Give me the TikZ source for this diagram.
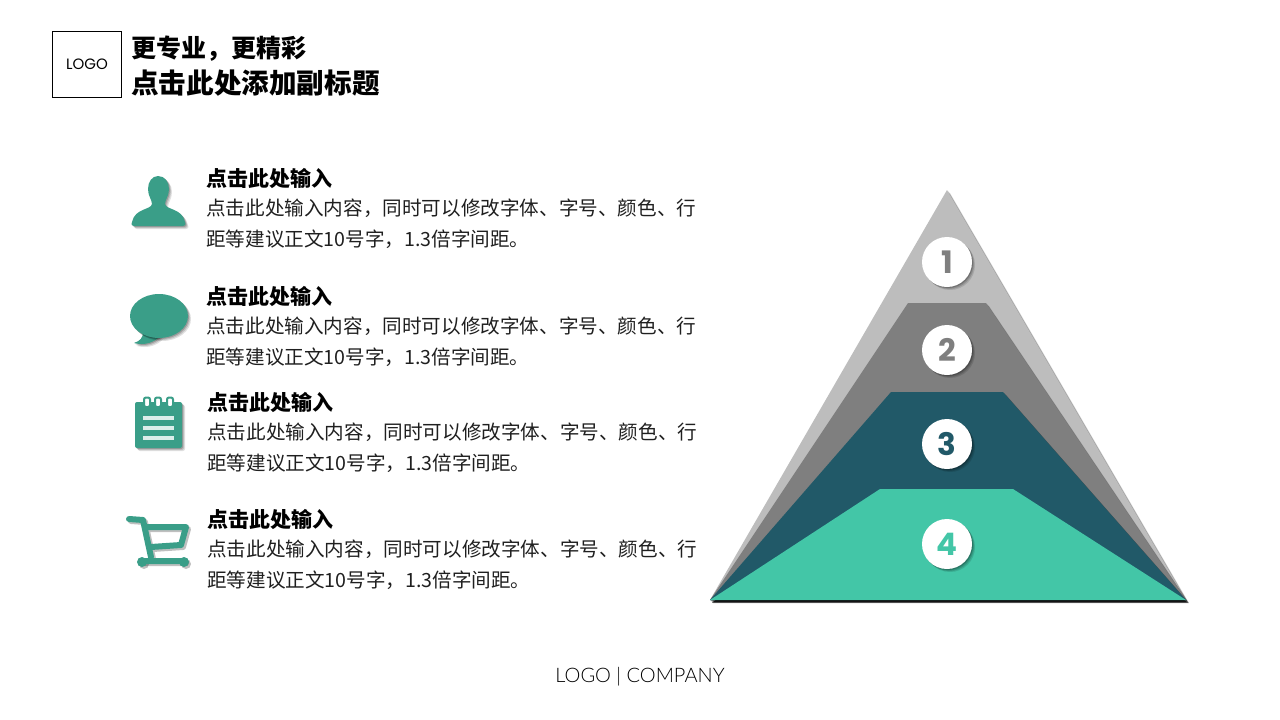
\documentclass[tikz,border=0pt]{standalone}
\usepackage{fontspec}
\setmainfont{Noto Sans CJK SC}
\newfontfamily\latinfont{Poppins}
\newfontfamily\latinlight{Lato Light}
\usetikzlibrary{
  shadows,
  calc
}
\definecolor{tier1}{HTML}{BDBDBD}
\definecolor{tier2}{HTML}{7F7F7F}
\definecolor{tier3}{HTML}{215968}
\definecolor{tier4}{HTML}{43C6A7}
\definecolor{icon}{HTML}{3A9E88}
\tikzset{
  softshadow/.style={
    drop shadow={shadow xshift=3pt,shadow yshift=-3pt,opacity=.12,fill=black},
    drop shadow={shadow xshift=2pt,shadow yshift=-2pt,opacity=.15,fill=black},
    drop shadow={shadow xshift=1pt,shadow yshift=-1pt,opacity=.2,fill=black}},
  tierface/.style={softshadow},
  numdot/.style={circle,fill=white,minimum size=50pt,inner sep=0pt,softshadow,font=\latinfont\bfseries\fontsize{31}{31}\selectfont},
  headtext/.style={anchor=west,inner sep=0pt,font=\bfseries\fontsize{21}{26}\selectfont},
  bodytext/.style={anchor=north west,inner sep=0pt,align=left,text=black!88,font=\fontsize{19.6}{30.5}\selectfont},
  iconface/.style={fill=icon,softshadow},
  cartline/.style={line width=6pt,line cap=round,line join=round},
}
\newcommand{\cartpath}{
  (129,519) -- (143,520) -- (151,557)
  (145,527) -- (186,527) -- (181,545) -- (151,547)
  (141,561) -- (184,561)
}

\begin{document}
\begin{tikzpicture}[x=1pt,y=-1pt]
\useasboundingbox (0,0) rectangle (1280,720);
\node[draw=black,line width=1pt,minimum width=69pt,minimum height=66pt,inner sep=0pt,font=\latinfont\fontsize{15}{15}\selectfont] (logo) at (87,64.5) {LOGO};
\node[anchor=west,inner sep=0pt,font=\bfseries\fontsize{25}{25}\selectfont] (title) at (131,49) {更专业，更精彩};
\node[anchor=west,inner sep=0pt,font=\bfseries\fontsize{27.6}{28}\selectfont] (subtitle) at (131,83) {点击此处添加副标题};
\foreach \i/\rowx/\rowy in {1/206/178,2/206/296,3/207/402,4/207/519}{
  \node[headtext] (head\i) at (\rowx,\rowy) {点击此处输入};
  \node[bodytext] (body\i) at (\rowx,\rowy+21) {点击此处输入内容，同时可以修改字体、字号、颜色、行\\距等建议正文10号字，1.3倍字间距。};
}
\fill[iconface] (158,176) .. controls (165,176) and (169,182) .. (169,189) .. controls (169,196) and (165,200) .. (165,204)
  .. controls (166,210) and (182,208) .. (185,222) .. controls (186,225) and (185,226) .. (183,226) -- (134,226)
  .. controls (132,226) and (131,225) .. (132,222) .. controls (135,208) and (151,210) .. (152,204)
  .. controls (152,200) and (148,196) .. (148,189) .. controls (148,182) and (152,176) .. (158,176) -- cycle;
\fill[iconface] (143,332) .. controls (143,338) and (140,341) .. (134,343) .. controls (145,346) and (155,342) .. (160,336) -- cycle;
\fill[iconface] (159,316) ellipse [x radius=29pt,y radius=22pt];
\fill[iconface,rounded corners=2pt] (135,402) rectangle (182,448);
\foreach \ringx in {147,158,170}
  \draw[icon,fill=white,line width=2pt,rounded corners=2pt] (\ringx-3,397.5) rectangle (\ringx+3,407);
\foreach \liney in {418,428,438}
  \draw[white!82!icon,line width=3.5pt] (143,\liney) -- (174,\liney);
\draw[black,opacity=.25,cartline,shift={(2pt,-2pt)}] \cartpath;
\fill[black,opacity=.25] (144,564) circle [radius=5pt] (186,564) circle [radius=5pt];
\draw[icon,cartline] \cartpath;
\fill[icon] (142,562) circle [radius=5pt] (184,562) circle [radius=5pt];
\fill[tier1,tierface] (947,190) -- (1186,600) -- (710,600) -- cycle;
\fill[tier2,tierface] (908,303) -- (986,303) -- (1186,600) -- (710,600) -- cycle;
\fill[tier3,tierface] (891,392) -- (1003,392) -- (1186,600) -- (710,600) -- cycle;
\fill[tier4,drop shadow={shadow xshift=2pt,shadow yshift=-2.5pt,opacity=.8,fill=black}] (880,489) -- (1013,489) -- (1186,600) -- (710,600) -- cycle;
\node[numdot,text=tier2] (num1) at (947,262) {1};
\node[numdot,text=tier2] (num2) at (947,350) {2};
\node[numdot,text=tier3] (num3) at (947,444) {3};
\node[numdot,text=tier4] (num4) at (947,544) {4};
\node[inner sep=0pt,font=\latinlight\fontsize{20}{20}\selectfont] (footer) at (640,677) {LOGO | COMPANY};
\end{tikzpicture}
\end{document}
